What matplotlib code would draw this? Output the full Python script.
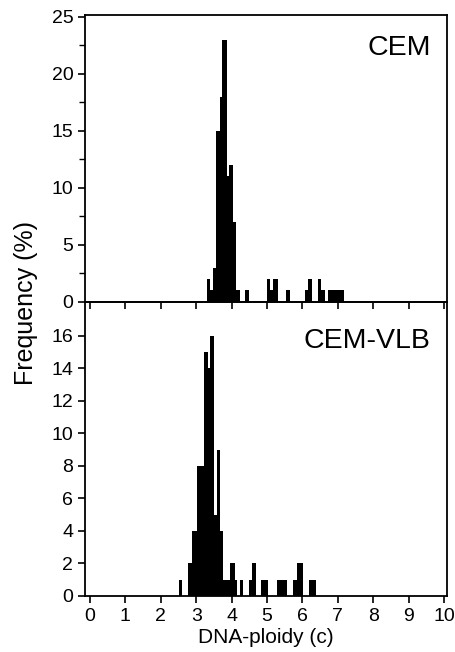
#!/usr/bin/env python3
"""DNA-ploidy histograms for CEM and CEM-VLB cells."""

import matplotlib
matplotlib.use("Agg")
import matplotlib.pyplot as plt
from matplotlib.ticker import MultipleLocator

# bin edges (DNA-ploidy, c) and frequency (%) per bin
CEM_EDGES = [3.31, 3.40, 3.48, 3.57, 3.66, 3.74, 3.87, 3.94, 4.04, 4.13, 4.23,
             4.37, 4.49, 4.99, 5.09, 5.18, 5.30, 5.54, 5.65, 6.06, 6.15, 6.27,
             6.43, 6.53, 6.65, 6.71, 7.18]
CEM_FREQ = [2, 1, 3, 15, 18, 23, 11, 12, 7, 1, 0,
            1, 0, 2, 1, 2, 0, 1, 0, 1, 2, 0,
            2, 1, 0, 1]

VLB_EDGES = [2.52, 2.60, 2.76, 2.87, 3.03, 3.22, 3.34, 3.39, 3.51, 3.58, 3.68,
             3.75, 3.95, 4.09, 4.16, 4.23, 4.33, 4.48, 4.57, 4.68, 4.83, 5.04,
             5.29, 5.57, 5.74, 5.84, 6.03, 6.18, 6.38]
VLB_FREQ = [1, 0, 2, 4, 8, 15, 14, 16, 5, 9, 4,
            1, 2, 1, 0, 1, 0, 1, 2, 0, 1, 0,
            1, 0, 1, 2, 0, 1]

PANELS = ["CEM", "CEM-VLB"]
X_TICKS = list(range(0, 11))

plt.rcParams.update({
    "font.family": ["Liberation Sans", "DejaVu Sans"],
    "axes.linewidth": 1.3,
    "xtick.major.width": 1.2,
    "ytick.major.width": 1.2,
    "xtick.minor.width": 1.0,
    "ytick.minor.width": 1.0,
    "xtick.major.size": 5,
    "ytick.major.size": 5,
    "ytick.minor.size": 4,
    "xtick.labelsize": 14,
    "ytick.labelsize": 14,
})

fig = plt.figure(figsize=(4.55, 6.52), dpi=100)
left, right = 0.187, 0.982
ax_bot = fig.add_axes([left, 0.086, right - left, 0.537 - 0.086])
ax_top = fig.add_axes([left, 0.537, right - left, 0.977 - 0.537], sharex=ax_bot)
ax_top.set_zorder(3)
ax_top.patch.set_alpha(0)

for ax, edges, freq, name, ytxt in [(ax_top, CEM_EDGES, CEM_FREQ, PANELS[0], 0.93),
                                    (ax_bot, VLB_EDGES, VLB_FREQ, PANELS[1], 0.91)]:
    ax.stairs(freq, edges, fill=True, color="black", linewidth=0)
    ax.text(0.955, ytxt, name, transform=ax.transAxes,
            ha="right", va="top", fontsize=20.5)
    ax.tick_params(direction="out", top=False, right=False)

ax_bot.set_xlim(-0.14, 10.08)
ax_bot.set_xticks(X_TICKS)
ax_top.tick_params(axis="x", labelbottom=False)
ax_top.set_ylim(0, 25.15)
ax_top.yaxis.set_major_locator(MultipleLocator(5))
ax_top.yaxis.set_minor_locator(MultipleLocator(2.5))

ax_bot.set_ylim(0, 18.1)
ax_bot.set_yticks(range(0, 17, 2))
ax_bot.set_xlabel("DNA-ploidy (c)", fontsize=15, labelpad=2)

fig.text(0.057, 0.535, "Frequency (%)", rotation=90, ha="center", va="center",
         fontsize=18)

fig.savefig("out.png", dpi=100)
